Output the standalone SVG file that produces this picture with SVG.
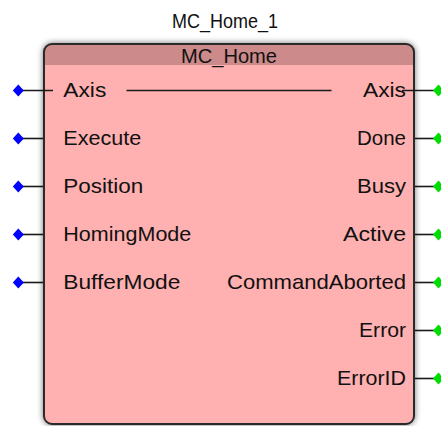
<svg xmlns="http://www.w3.org/2000/svg" xmlns:xlink="http://www.w3.org/1999/xlink" width="441" height="426" viewBox="0 0 441 426">
  <defs>
    <style>
      .lbl { font-family: "Liberation Sans", Arial, sans-serif; font-size: 21px; fill: #111; }
      .wire { stroke: #1a1a1a; stroke-width: 1.6; fill: none; }
      .inpin { fill: #0000ff; }
      .outpin { fill: #00dd00; }
    </style>
    <path id="dia" d="M0,-6 L5.5,0 L0,6 L-5.5,0 Z"/>
    <filter id="shadow" x="-10%" y="-10%" width="120%" height="120%">
      <feGaussianBlur stdDeviation="3"/>
    </filter>
    <clipPath id="boxClip">
      <rect x="44" y="44" width="370" height="380" rx="8"/>
    </clipPath>
  </defs>

  <g id="MC_Home_1">
    <text class="lbl" x="225" y="28.3" text-anchor="middle" textLength="106" lengthAdjust="spacingAndGlyphs">MC_Home_1</text>
    <rect x="43" y="43" width="372" height="382" rx="9" fill="#000" opacity="0.55" filter="url(#shadow)"/>
    <rect x="44" y="44" width="370" height="380" rx="8" fill="#ffb0b0"/>
    <rect x="44" y="44" width="370" height="21" fill="#cc8a8a" clip-path="url(#boxClip)"/>
    <rect x="44" y="44" width="370" height="380" rx="8" fill="none" stroke="#2a2a2a" stroke-width="2"/>
    <text class="lbl" x="229" y="63.3" text-anchor="middle" textLength="96" lengthAdjust="spacingAndGlyphs">MC_Home</text>

    <text class="lbl" x="63.3" y="96.5" textLength="43" lengthAdjust="spacingAndGlyphs">Axis</text>
    <text class="lbl" x="63.3" y="144.5" textLength="78" lengthAdjust="spacingAndGlyphs">Execute</text>
    <text class="lbl" x="63.3" y="192.5" textLength="80" lengthAdjust="spacingAndGlyphs">Position</text>
    <text class="lbl" x="63.3" y="240.5" textLength="128" lengthAdjust="spacingAndGlyphs">HomingMode</text>
    <text class="lbl" x="63.3" y="288.5" textLength="117" lengthAdjust="spacingAndGlyphs">BufferMode</text>

    <text class="lbl" x="406" y="96.5" text-anchor="end" textLength="43" lengthAdjust="spacingAndGlyphs">Axis</text>
    <text class="lbl" x="406" y="144.5" text-anchor="end" textLength="49" lengthAdjust="spacingAndGlyphs">Done</text>
    <text class="lbl" x="406" y="192.5" text-anchor="end" textLength="49" lengthAdjust="spacingAndGlyphs">Busy</text>
    <text class="lbl" x="406" y="240.5" text-anchor="end" textLength="63" lengthAdjust="spacingAndGlyphs">Active</text>
    <text class="lbl" x="406" y="288.5" text-anchor="end" textLength="179" lengthAdjust="spacingAndGlyphs">CommandAborted</text>
    <text class="lbl" x="406" y="336.5" text-anchor="end" textLength="47" lengthAdjust="spacingAndGlyphs">Error</text>
    <text class="lbl" x="406" y="384.5" text-anchor="end" textLength="69" lengthAdjust="spacingAndGlyphs">ErrorID</text>
  </g>

  <g id="connectors">
    <line class="wire" x1="18.3" y1="90.5" x2="53" y2="90.5"/>
    <line class="wire" x1="18.3" y1="138.5" x2="43" y2="138.5"/>
    <line class="wire" x1="18.3" y1="186.5" x2="43" y2="186.5"/>
    <line class="wire" x1="18.3" y1="234.5" x2="43" y2="234.5"/>
    <line class="wire" x1="18.3" y1="282.5" x2="43" y2="282.5"/>

    <line class="wire" x1="126.5" y1="90.5" x2="331.5" y2="90.5"/>

    <line class="wire" x1="402" y1="90.5" x2="438.5" y2="90.5"/>
    <line class="wire" x1="415" y1="138.5" x2="438.5" y2="138.5"/>
    <line class="wire" x1="415" y1="186.5" x2="438.5" y2="186.5"/>
    <line class="wire" x1="415" y1="234.5" x2="438.5" y2="234.5"/>
    <line class="wire" x1="415" y1="282.5" x2="438.5" y2="282.5"/>
    <line class="wire" x1="415" y1="330.5" x2="438.5" y2="330.5"/>
    <line class="wire" x1="415" y1="378.5" x2="438.5" y2="378.5"/>

    <use xlink:href="#dia" class="inpin" x="18.3" y="90.5"/>
    <use xlink:href="#dia" class="inpin" x="18.3" y="138.5"/>
    <use xlink:href="#dia" class="inpin" x="18.3" y="186.5"/>
    <use xlink:href="#dia" class="inpin" x="18.3" y="234.5"/>
    <use xlink:href="#dia" class="inpin" x="18.3" y="282.5"/>

    <use xlink:href="#dia" class="outpin" x="438.5" y="90.5"/>
    <use xlink:href="#dia" class="outpin" x="438.5" y="138.5"/>
    <use xlink:href="#dia" class="outpin" x="438.5" y="186.5"/>
    <use xlink:href="#dia" class="outpin" x="438.5" y="234.5"/>
    <use xlink:href="#dia" class="outpin" x="438.5" y="282.5"/>
    <use xlink:href="#dia" class="outpin" x="438.5" y="330.5"/>
    <use xlink:href="#dia" class="outpin" x="438.5" y="378.5"/>
  </g>
</svg>
